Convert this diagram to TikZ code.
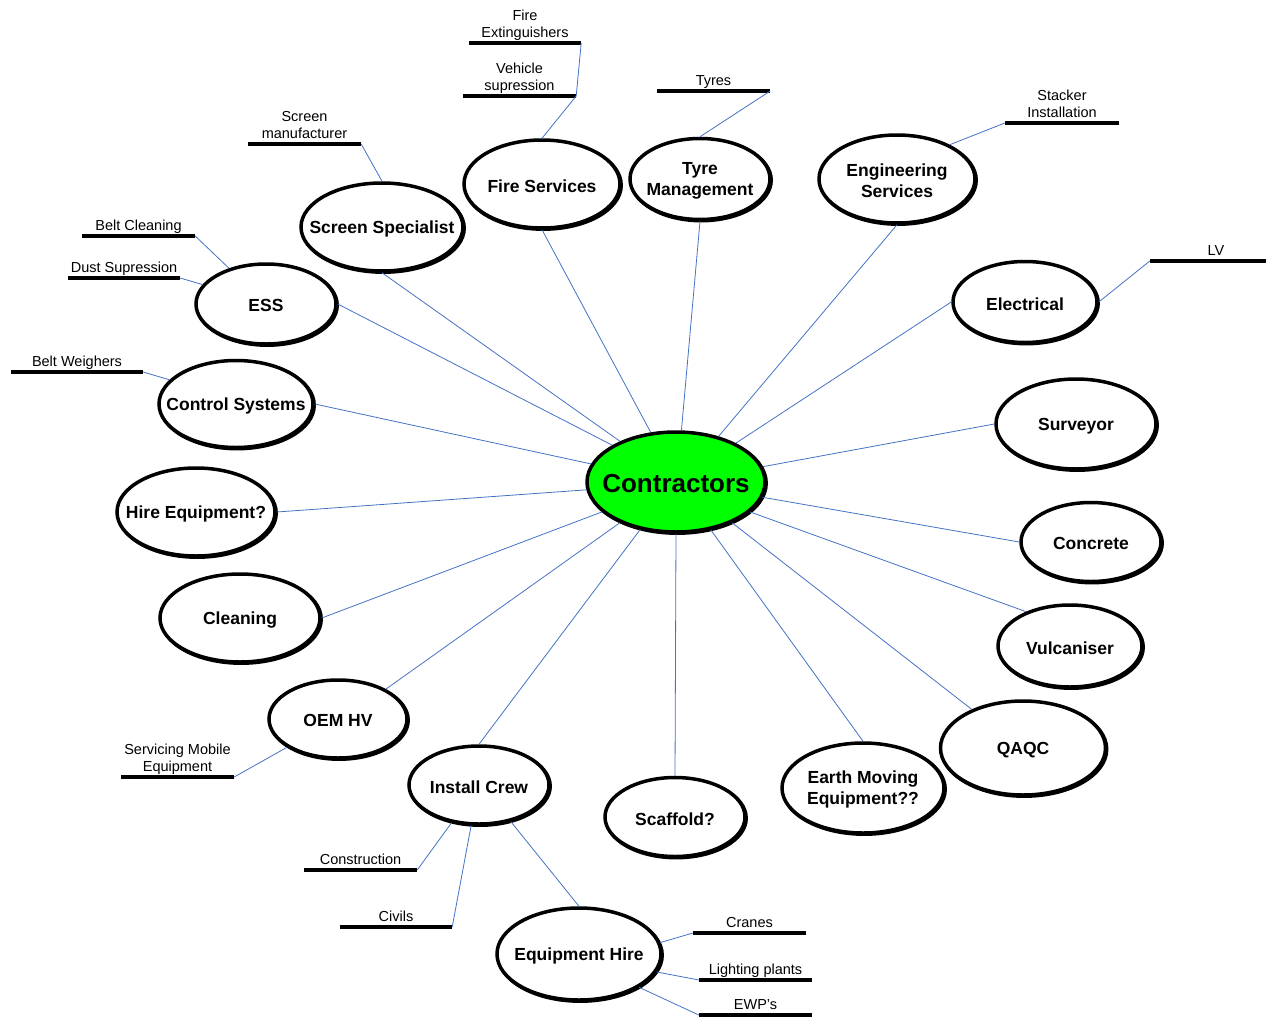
\documentclass[tikz,border=0pt]{standalone}
\usepackage{fontspec}
\setmainfont{Liberation Sans}
\usetikzlibrary{shapes.geometric}
\definecolor{ctrgreen}{HTML}{00FF00}
\definecolor{linkblue}{HTML}{4472C4}

\begin{document}
\begin{tikzpicture}[x=1pt,y=-1pt,
    bubble/.style={ellipse, draw, fill=white, line width=3.5pt, inner sep=0pt,
        preaction={draw, line width=3.5pt, transform canvas={shift={(1.2pt,-1.2pt)}}}},
    bubtext/.style={font=\bfseries\fontsize{17.5}{21}\selectfont, align=center, inner sep=0pt, yshift=-1.8pt},
    tag/.style={anchor=south, inner sep=2pt, text depth=3.5pt, minimum width=113pt,
        font=\fontsize{14.5}{17}\selectfont, align=center},
    bar/.style={line width=4pt},
    link/.style={draw=linkblue, line width=0.8pt}]
    \useasboundingbox (0,0) rectangle (1266,1017);

    % main bubble and the trades round it
    \node[bubble, fill=ctrgreen, minimum width=178pt, minimum height=100pt,
        label={[bubtext,font=\bfseries\fontsize{26}{30}\selectfont]center:Contractors}] (ctr) at (676,482) {};
    \node[bubble, minimum width=156pt, minimum height=88pt, label={[bubtext]center:Fire Services}] (fire) at (542,184) {};
    \node[bubble, minimum width=140pt, minimum height=81pt, label={[bubtext]center:Tyre\\Management}] (tyre) at (700,179) {};
    \node[bubble, minimum width=156pt, minimum height=88pt, label={[bubtext]center:Engineering\\Services}] (eng) at (897,179) {};
    \node[bubble, minimum width=162pt, minimum height=88pt, label={[bubtext]center:Screen Specialist}] (screen) at (382,227) {};
    \node[bubble, minimum width=140pt, minimum height=80pt, label={[bubtext]center:ESS}] (ess) at (266,304) {};
    \node[bubble, minimum width=144pt, minimum height=81pt, label={[bubtext]center:Electrical}] (elec) at (1025,302) {};
    \node[bubble, minimum width=154pt, minimum height=87pt, label={[bubtext]center:Control Systems}] (ctrl) at (236,404) {};
    \node[bubble, minimum width=160pt, minimum height=90pt, label={[bubtext]center:Surveyor}] (surv) at (1076,424) {};
    \node[bubble, minimum width=158pt, minimum height=88pt, label={[bubtext]center:Hire Equipment?}] (hire) at (196,512) {};
    \node[bubble, minimum width=140pt, minimum height=79pt, label={[bubtext]center:Concrete}] (conc) at (1091,542) {};
    \node[bubble, minimum width=160pt, minimum height=88pt, label={[bubtext]center:Cleaning}] (clean) at (240,618) {};
    \node[bubble, minimum width=144pt, minimum height=82pt, label={[bubtext]center:Vulcaniser}] (vulc) at (1070,646) {};
    \node[bubble, minimum width=138pt, minimum height=78pt, label={[bubtext]center:OEM HV}] (oem) at (338,719) {};
    \node[bubble, minimum width=165pt, minimum height=94pt, label={[bubtext]center:QAQC}] (qaqc) at (1023,748) {};
    \node[bubble, minimum width=140pt, minimum height=78pt, label={[bubtext]center:Install Crew}] (inst) at (479,785) {};
    \node[bubble, minimum width=140pt, minimum height=79pt, label={[bubtext]center:Scaffold?}] (scaf) at (675,817) {};
    \node[bubble, minimum width=162pt, minimum height=90pt, label={[bubtext]center:Earth Moving\\Equipment??}] (earth) at (863,788) {};
    \node[bubble, minimum width=164pt, minimum height=92pt, label={[bubtext]center:Equipment Hire}] (eqhire) at (579,954) {};

    % spokes
    \draw[link] (fire.south) -- (ctr.117.5);
    \draw[link] (tyre.south) -- (ctr.84.5);
    \draw[link] (eng.south) -- (ctr.47.6);
    \draw[link] (screen.south) -- (ctr.144.7);
    \draw[link] (ess.east) -- (ctr.150.6);
    \draw[link] (elec.west) -- (ctr.33.3);
    \draw[link] (ctrl.east) -- (ctr.168.2);
    \draw[link] (surv.west) -- (ctr.10.2);
    \draw[link] (hire.east) -- (ctr.185);
    \draw[link] (conc.west) -- (ctr.-10.8);
    \draw[link] (clean.east) -- (ctr.202.2);
    \draw[link] (vulc.142.5) -- (ctr.-22.2);
    \draw[link] (oem.32.8) -- (ctr.216.7);
    \draw[link] (qaqc.143.8) -- (ctr.-36);
    \draw[link] (inst.north) -- (ctr.233.1);
    \draw[link] (scaf.north) -- (ctr.270);
    \draw[link] (earth.north) -- (ctr.-54.7);

    % underlined sub items
    \node[tag, minimum width=112pt] (fext) at (525,43) {Fire\\Extinguishers};
    \node[tag] (vsup) at (519.5,96) {Vehicle\\supression};
    \node[tag] (tyres) at (713.5,91) {Tyres};
    \node[tag, minimum width=114pt] (stack) at (1062,123) {Stacker\\Installation};
    \node[tag] (smanu) at (304.5,144) {Screen\\manufacturer};
    \node[tag] (bclean) at (138.5,236) {Belt Cleaning};
    \node[tag, minimum width=112pt] (dsup) at (124,278) {Dust Supression};
    \node[tag, minimum width=132pt] (bweigh) at (77,372) {Belt Weighers};
    \node[tag, minimum width=116pt] (lv) at (1208,261) {\hspace*{16pt}LV};
    \node[tag] (smob) at (177.5,777) {Servicing Mobile\\Equipment};
    \node[tag] (constr) at (360.5,870) {Construction};
    \node[tag, minimum width=112pt] (civ) at (396,927) {Civils};
    \node[tag] (cranes) at (749.5,933) {Cranes};
    \node[tag] (light) at (755.5,980) {Lighting plants};
    \node[tag] (ewp) at (755.5,1015) {EWP’s};
    \foreach \t in {fext,vsup,tyres,stack,smanu,bclean,dsup,bweigh,lv,smob,constr,civ,cranes,light,ewp}
        \draw[bar] (\t.south west) -- (\t.south east);

    \draw[link] (fext.south east) -- (vsup.south east) -- (fire.north);
    \draw[link] (tyres.south east) -- (tyre.north);
    \draw[link] (stack.south west) -- (eng.33.7);
    \draw[link] (smanu.south east) -- (screen.north);
    \draw[link] (bclean.south east) -- (ess.136.6);
    \draw[link] (dsup.south east) -- (ess.163.8);
    \draw[link] (bweigh.south east) -- (ctrl.160);
    \draw[link] (lv.south west) -- (elec.east);
    \draw[link] (smob.south east) -- (oem.209.4);
    \draw[link] (constr.south east) -- (inst.234.6);
    \draw[link] (civ.south east) -- (inst.259);
    \draw[link] (inst.-49.3) -- (eqhire.north);
    \draw[link] (cranes.south west) -- (eqhire.8.8);
    \draw[link] (light.south west) -- (eqhire.-13.2);
    \draw[link] (ewp.south west) -- (eqhire.-29.4);
\end{tikzpicture}
\end{document}
